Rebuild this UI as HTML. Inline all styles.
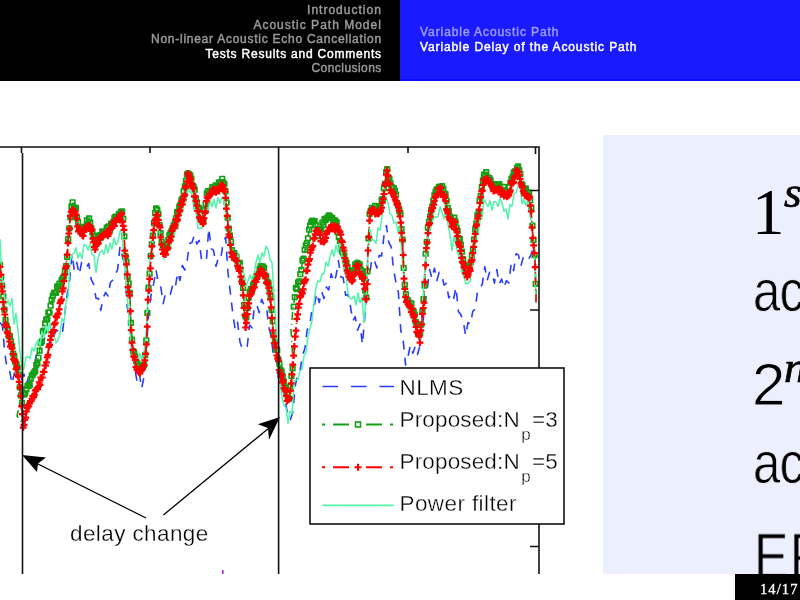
<!DOCTYPE html>
<html><head><meta charset="utf-8"><style>
*{margin:0;padding:0;box-sizing:border-box}
html,body{width:800px;height:600px;overflow:hidden;background:#fff;position:relative}
.hl{position:absolute;left:0;top:0;width:400px;height:80.5px;background:#000}
.hr{position:absolute;left:400px;top:0;width:400px;height:81px;background:#1a1aff;border-bottom:2px solid #0c0cff}
.hdr{position:absolute;will-change:transform;font-family:"Liberation Sans",sans-serif;font-size:12px;white-space:nowrap;line-height:14.6px;letter-spacing:1px;-webkit-text-stroke:0.45px currentColor}
.hdl{right:418px;top:2.5px;text-align:right;color:#9a9a9a}
.hdr .on{color:#fff}
.hdrr{left:419.5px;top:25px;color:#9c9cff}
.box{position:absolute;left:603px;top:135px;width:197px;height:439px;background:#ecf0fe;overflow:hidden}
.ln{position:absolute;will-change:transform;font-family:"Liberation Sans",sans-serif;font-size:60px;line-height:1;white-space:nowrap;color:#000}
.ser{font-family:"Liberation Serif",serif}
.sup{font-family:"Liberation Serif",serif;font-style:italic;font-size:45px;position:absolute;top:-10px;-webkit-text-stroke:0.7px #000}
.thin{-webkit-text-stroke:0.8px #ecf0fe}
.cm{transform-origin:0 0;transform:scaleX(0.82);-webkit-text-stroke:0.8px #ecf0fe;letter-spacing:-1px}
.foot{position:absolute;left:735px;top:574px;width:65px;height:26px;background:#000;color:#fff;font-family:"Liberation Serif",serif;font-size:14.5px;letter-spacing:1.1px;line-height:1;-webkit-text-stroke:0.35px #fff}
.foot span{position:absolute;will-change:transform;left:24.5px;top:7.5px}
</style></head><body>
<div class="hl"></div><div class="hr"></div>
<div class="hdr hdl">Introduction<br>Acoustic Path Model<br><span style="letter-spacing:0.74px">Non-linear Acoustic Echo Cancellation</span><br><span class="on" style="letter-spacing:0.78px">Tests Results and Comments</span><br><span style="letter-spacing:0.45px">Conclusions</span></div>
<div class="hdr hdrr"><span style="letter-spacing:0.92px">Variable Acoustic Path</span><br><span style="color:#fff;letter-spacing:0.88px">Variable Delay of the Acoustic Path</span></div>
<svg width="800" height="600" viewBox="0 0 800 600" style="position:absolute;left:0;top:0;will-change:transform">
<defs><clipPath id="pc"><rect x="0" y="147" width="539" height="427"/></clipPath></defs>
<g clip-path="url(#pc)" fill="none" stroke-linejoin="round">
<polyline points="0.0,322.5 2.4,325.8 4.8,352.9 7.2,369.6 9.6,370.5 12.0,383.8 14.4,373.0 16.8,377.9 19.2,378.7 21.6,379.2 24.0,374.1 26.4,383.8 28.8,377.3 31.2,382.6 33.6,375.0 36.0,355.7 38.4,352.4 40.8,345.0 43.2,341.3 45.6,336.5 48.0,345.8 50.4,342.1 52.8,343.7 55.2,331.3 57.6,330.7 60.0,334.7 62.4,333.2 64.8,313.6 67.2,294.3 69.6,280.5 72.0,254.1 74.4,270.5 76.8,262.4 79.2,274.4 81.6,262.5 84.0,266.0 86.4,267.5 88.8,263.5 91.2,279.3 93.6,284.1 96.0,298.1 98.4,298.6 100.8,310.4 103.2,297.5 105.6,292.4 108.0,296.0 110.4,282.5 112.8,280.0 115.2,274.3 117.6,269.8 120.0,246.4 122.4,256.6 124.8,264.6 127.2,307.1 129.6,319.6 132.0,352.6 134.4,366.2 136.8,380.1 139.2,372.6 141.6,388.4 144.0,377.0 146.4,346.7 148.8,312.6 151.2,294.2 153.6,283.9 156.0,269.7 158.4,284.2 160.8,287.0 163.2,303.6 165.6,292.6 168.0,292.5 170.4,294.2 172.8,284.6 175.2,288.1 177.6,272.5 180.0,280.4 182.4,265.5 184.8,270.0 187.2,260.2 189.6,243.5 192.0,242.5 194.4,235.2 196.8,244.0 199.2,240.4 201.6,260.6 204.0,259.8 206.4,260.2 208.8,228.2 211.2,248.7 213.6,250.4 216.0,266.3 218.4,257.7 220.8,259.0 223.2,242.2 225.6,237.2 228.0,272.5 230.4,293.2 232.8,313.5 235.2,329.7 237.6,322.3 240.0,342.0 242.4,349.0 244.8,349.0 247.2,346.5 249.6,325.1 252.0,327.8 254.4,306.9 256.8,304.8 259.2,312.7 261.6,299.3 264.0,305.0 266.4,305.7 268.8,326.9 271.2,336.4 273.6,357.3 276.0,355.4 278.4,376.7 280.8,376.4 283.2,386.7 285.6,402.2 288.0,417.3 290.4,419.6 292.8,412.5 295.2,386.1 297.6,374.8 300.0,371.4 302.4,355.1 304.8,349.1 307.2,329.7 309.6,326.8 312.0,309.0 314.4,305.0 316.8,293.0 319.2,302.5 321.6,291.5 324.0,298.6 326.4,287.1 328.8,289.9 331.2,273.7 333.6,282.1 336.0,276.0 338.4,260.5 340.8,276.8 343.2,277.8 345.6,295.2 348.0,294.6 350.4,306.0 352.8,320.9 355.2,316.6 357.6,330.3 360.0,324.1 362.4,344.4 364.8,316.8 367.2,284.6 369.6,274.6 372.0,258.5 374.4,260.5 376.8,267.9 379.2,255.3 381.6,256.1 384.0,235.7 386.4,225.5 388.8,242.5 391.2,246.9 393.6,269.8 396.0,282.6 398.4,292.5 400.8,330.5 403.2,340.2 405.6,365.0 408.0,356.5 410.4,345.3 412.8,353.3 415.2,346.5 417.6,354.5 420.0,345.1 422.4,328.1 424.8,303.4 427.2,289.9 429.6,269.6 432.0,278.6 434.4,268.2 436.8,280.7 439.2,272.3 441.6,274.4 444.0,285.0 446.4,283.3 448.8,297.9 451.2,293.9 453.6,298.9 456.0,287.3 458.4,311.5 460.8,314.6 463.2,320.7 465.6,335.6 468.0,322.5 470.4,324.2 472.8,311.1 475.2,309.2 477.6,290.5 480.0,289.3 482.4,283.6 484.8,266.7 487.2,280.3 489.6,272.2 492.0,272.3 494.4,283.2 496.8,269.6 499.2,283.9 501.6,279.0 504.0,287.8 506.4,280.6 508.8,283.0 511.2,263.1 513.6,270.7 516.0,253.7 518.4,254.9 520.8,266.4 523.2,257.6 525.6,256.1 528.0,259.7 530.4,256.3 532.8,249.6" stroke="#2a3cff" stroke-width="1.6" stroke-dasharray="9 8"/>
<polyline points="0.0,264.0 2.0,286.0 4.0,306.0 6.0,324.0 9.0,336.0 12.0,346.0 15.0,358.0 18.0,371.0 20.0,386.0 22.0,404.0 23.0,424.0 17.0,416.0 20.0,403.0 24.0,395.0 28.0,386.0 32.0,378.0 36.0,368.0 39.0,354.0 41.0,343.0 43.0,332.0 46.0,322.0 50.0,308.0 54.0,293.0 64.0,279.0 67.0,256.0 68.5,233.0 71.0,209.0 73.0,203.0 76.0,211.0 79.0,228.0 83.0,232.0 86.0,224.0 89.0,220.0 92.0,228.0 95.0,244.0 100.0,236.0 105.0,232.0 110.0,228.0 113.0,220.0 118.0,216.0 122.0,212.0 124.0,228.0 125.0,251.0 127.0,264.0 128.0,281.0 130.0,296.0 131.0,326.0 133.0,348.0 136.0,361.0 140.0,368.0 144.0,364.0 146.0,348.0 147.0,326.0 148.0,296.0 150.0,266.0 153.0,233.0 155.0,216.0 157.0,208.0 159.0,218.0 161.0,234.0 163.0,248.0 165.0,251.0 168.0,241.0 171.0,232.0 175.0,220.0 180.0,206.0 184.0,192.0 186.0,182.0 188.0,171.0 191.0,178.0 194.0,188.0 197.0,202.0 200.0,214.0 203.0,221.0 205.0,211.0 207.0,194.0 212.0,188.0 218.0,186.0 222.0,180.0 225.0,188.0 227.0,208.0 228.0,221.0 230.0,238.0 232.0,251.0 236.0,258.0 240.0,266.0 243.0,286.0 245.0,316.0 246.0,324.0 248.0,301.0 250.0,292.0 253.0,286.0 258.0,272.0 262.0,266.0 266.0,276.0 270.0,288.0 272.0,316.0 274.0,336.0 276.0,346.0 280.0,368.0 284.0,382.0 287.0,394.0 289.0,398.0 291.0,384.0 293.0,361.0 291.0,330.0 293.0,308.0 296.0,290.0 299.0,280.0 303.0,260.0 306.0,245.0 309.0,232.0 312.0,220.0 315.0,224.0 318.0,234.0 321.0,228.0 324.0,222.0 328.0,216.0 332.0,218.0 336.0,222.0 338.0,233.0 340.0,243.0 346.0,263.0 348.0,271.0 352.0,276.0 355.0,268.0 357.0,260.0 360.0,268.0 363.0,274.0 365.0,286.0 366.0,298.0 367.0,286.0 368.0,246.0 370.0,208.0 375.0,208.0 380.0,209.0 383.0,196.0 385.0,182.0 387.0,168.0 390.0,184.0 395.0,193.0 400.0,211.0 402.0,233.0 403.0,248.0 404.0,276.0 406.0,296.0 410.0,304.0 413.0,308.0 416.0,321.0 418.0,331.0 420.0,336.0 422.0,316.0 424.0,296.0 425.0,276.0 426.0,248.0 428.0,228.0 430.0,214.0 435.0,196.0 438.0,188.0 441.0,186.0 445.0,194.0 447.0,206.0 450.0,218.0 453.0,222.0 455.0,218.0 457.0,231.0 460.0,241.0 462.0,254.0 465.0,266.0 467.0,272.0 470.0,266.0 472.0,256.0 474.0,241.0 475.0,228.0 478.0,214.0 480.0,201.0 482.0,186.0 485.0,173.0 488.0,178.0 492.0,184.0 496.0,186.0 500.0,187.0 504.0,190.0 507.0,194.0 509.0,188.0 512.0,180.0 515.0,172.0 518.0,164.0 520.0,172.0 521.0,183.0 524.0,188.0 527.0,191.0 530.0,196.0 531.0,206.0 532.0,221.0 533.0,236.0 535.0,258.0 536.0,291.0 536.0,301.0" stroke="#14a014" stroke-width="1.6" stroke-dasharray="8 4 1 4"/>
<path d="M-2.3 262.5h4.6v4.6h-4.6zM-1.2 275.0h4.6v4.6h-4.6zM-0.1 283.4h4.6v4.6h-4.6zM1.0 294.1h4.6v4.6h-4.6zM2.1 307.4h4.6v4.6h-4.6zM3.2 317.7h4.6v4.6h-4.6zM4.3 323.4h4.6v4.6h-4.6zM5.4 326.8h4.6v4.6h-4.6zM6.5 333.5h4.6v4.6h-4.6zM7.6 333.8h4.6v4.6h-4.6zM8.7 339.2h4.6v4.6h-4.6zM9.8 343.9h4.6v4.6h-4.6zM10.9 351.3h4.6v4.6h-4.6zM12.0 353.8h4.6v4.6h-4.6zM13.1 359.7h4.6v4.6h-4.6zM14.2 362.1h4.6v4.6h-4.6zM15.3 365.4h4.6v4.6h-4.6zM16.4 372.4h4.6v4.6h-4.6zM17.5 385.0h4.6v4.6h-4.6zM18.6 393.0h4.6v4.6h-4.6zM19.7 400.5h4.6v4.6h-4.6zM20.8 391.6h4.6v4.6h-4.6zM21.9 392.2h4.6v4.6h-4.6zM23.0 390.8h4.6v4.6h-4.6zM24.1 386.8h4.6v4.6h-4.6zM25.2 383.4h4.6v4.6h-4.6zM26.3 383.5h4.6v4.6h-4.6zM27.4 382.9h4.6v4.6h-4.6zM28.5 376.5h4.6v4.6h-4.6zM29.6 373.1h4.6v4.6h-4.6zM30.7 372.2h4.6v4.6h-4.6zM31.8 370.0h4.6v4.6h-4.6zM32.9 368.8h4.6v4.6h-4.6zM34.0 362.5h4.6v4.6h-4.6zM35.1 360.9h4.6v4.6h-4.6zM36.2 355.5h4.6v4.6h-4.6zM37.3 348.4h4.6v4.6h-4.6zM38.4 340.6h4.6v4.6h-4.6zM39.5 339.1h4.6v4.6h-4.6zM40.6 329.1h4.6v4.6h-4.6zM41.7 328.3h4.6v4.6h-4.6zM42.8 321.1h4.6v4.6h-4.6zM43.9 317.3h4.6v4.6h-4.6zM45.0 316.7h4.6v4.6h-4.6zM46.1 310.1h4.6v4.6h-4.6zM47.2 310.2h4.6v4.6h-4.6zM48.3 303.4h4.6v4.6h-4.6zM49.4 297.4h4.6v4.6h-4.6zM50.5 293.5h4.6v4.6h-4.6zM51.6 290.6h4.6v4.6h-4.6zM52.7 290.3h4.6v4.6h-4.6zM53.8 290.5h4.6v4.6h-4.6zM54.9 284.1h4.6v4.6h-4.6zM56.0 284.0h4.6v4.6h-4.6zM57.1 281.4h4.6v4.6h-4.6zM58.2 284.4h4.6v4.6h-4.6zM59.3 277.9h4.6v4.6h-4.6zM60.4 275.8h4.6v4.6h-4.6zM61.5 274.3h4.6v4.6h-4.6zM62.6 269.2h4.6v4.6h-4.6zM63.7 263.8h4.6v4.6h-4.6zM64.8 254.5h4.6v4.6h-4.6zM65.9 236.7h4.6v4.6h-4.6zM67.0 226.0h4.6v4.6h-4.6zM68.1 215.0h4.6v4.6h-4.6zM69.2 204.2h4.6v4.6h-4.6zM70.3 200.0h4.6v4.6h-4.6zM71.4 205.2h4.6v4.6h-4.6zM72.5 207.0h4.6v4.6h-4.6zM73.6 205.6h4.6v4.6h-4.6zM74.7 215.4h4.6v4.6h-4.6zM75.8 219.9h4.6v4.6h-4.6zM76.9 225.1h4.6v4.6h-4.6zM78.0 226.0h4.6v4.6h-4.6zM79.1 226.1h4.6v4.6h-4.6zM80.2 226.2h4.6v4.6h-4.6zM81.3 226.8h4.6v4.6h-4.6zM82.4 224.3h4.6v4.6h-4.6zM83.5 225.0h4.6v4.6h-4.6zM84.6 218.2h4.6v4.6h-4.6zM85.7 221.8h4.6v4.6h-4.6zM86.8 216.2h4.6v4.6h-4.6zM87.9 220.0h4.6v4.6h-4.6zM89.0 225.8h4.6v4.6h-4.6zM90.1 229.8h4.6v4.6h-4.6zM91.2 233.3h4.6v4.6h-4.6zM92.3 236.9h4.6v4.6h-4.6zM93.4 240.4h4.6v4.6h-4.6zM94.5 238.1h4.6v4.6h-4.6zM95.6 239.6h4.6v4.6h-4.6zM96.7 233.5h4.6v4.6h-4.6zM97.8 232.8h4.6v4.6h-4.6zM98.9 235.1h4.6v4.6h-4.6zM100.0 229.0h4.6v4.6h-4.6zM101.1 230.4h4.6v4.6h-4.6zM102.2 232.0h4.6v4.6h-4.6zM103.3 230.8h4.6v4.6h-4.6zM104.4 225.6h4.6v4.6h-4.6zM105.5 224.7h4.6v4.6h-4.6zM106.6 224.0h4.6v4.6h-4.6zM107.7 228.2h4.6v4.6h-4.6zM108.8 221.3h4.6v4.6h-4.6zM109.9 221.3h4.6v4.6h-4.6zM111.0 219.9h4.6v4.6h-4.6zM112.1 215.6h4.6v4.6h-4.6zM113.2 214.3h4.6v4.6h-4.6zM114.3 217.6h4.6v4.6h-4.6zM115.4 214.6h4.6v4.6h-4.6zM116.5 211.5h4.6v4.6h-4.6zM117.6 213.1h4.6v4.6h-4.6zM118.7 209.6h4.6v4.6h-4.6zM119.8 209.2h4.6v4.6h-4.6zM120.9 216.3h4.6v4.6h-4.6zM122.0 234.1h4.6v4.6h-4.6zM123.1 253.8h4.6v4.6h-4.6zM124.2 259.3h4.6v4.6h-4.6zM125.3 274.6h4.6v4.6h-4.6zM126.4 281.1h4.6v4.6h-4.6zM127.5 290.6h4.6v4.6h-4.6zM128.6 320.6h4.6v4.6h-4.6zM129.7 337.4h4.6v4.6h-4.6zM130.8 348.9h4.6v4.6h-4.6zM131.9 350.2h4.6v4.6h-4.6zM133.0 354.2h4.6v4.6h-4.6zM134.1 359.0h4.6v4.6h-4.6zM135.2 361.3h4.6v4.6h-4.6zM136.3 365.8h4.6v4.6h-4.6zM137.4 363.3h4.6v4.6h-4.6zM138.5 366.7h4.6v4.6h-4.6zM139.6 365.2h4.6v4.6h-4.6zM140.7 364.6h4.6v4.6h-4.6zM141.8 362.5h4.6v4.6h-4.6zM142.9 352.7h4.6v4.6h-4.6zM144.0 338.1h4.6v4.6h-4.6zM145.1 310.6h4.6v4.6h-4.6zM146.2 285.4h4.6v4.6h-4.6zM147.3 271.4h4.6v4.6h-4.6zM148.4 253.5h4.6v4.6h-4.6zM149.5 242.1h4.6v4.6h-4.6zM150.6 233.3h4.6v4.6h-4.6zM151.7 220.7h4.6v4.6h-4.6zM152.8 210.7h4.6v4.6h-4.6zM153.9 206.1h4.6v4.6h-4.6zM155.0 207.5h4.6v4.6h-4.6zM156.1 211.7h4.6v4.6h-4.6zM157.2 222.6h4.6v4.6h-4.6zM158.3 230.8h4.6v4.6h-4.6zM159.4 239.5h4.6v4.6h-4.6zM160.5 242.9h4.6v4.6h-4.6zM161.6 244.6h4.6v4.6h-4.6zM162.7 246.3h4.6v4.6h-4.6zM163.8 245.0h4.6v4.6h-4.6zM164.9 242.6h4.6v4.6h-4.6zM166.0 237.5h4.6v4.6h-4.6zM167.1 232.9h4.6v4.6h-4.6zM168.2 230.7h4.6v4.6h-4.6zM169.3 228.6h4.6v4.6h-4.6zM170.4 225.6h4.6v4.6h-4.6zM171.5 222.8h4.6v4.6h-4.6zM172.6 220.1h4.6v4.6h-4.6zM173.7 215.9h4.6v4.6h-4.6zM174.8 209.5h4.6v4.6h-4.6zM175.9 210.8h4.6v4.6h-4.6zM177.0 204.4h4.6v4.6h-4.6zM178.1 202.7h4.6v4.6h-4.6zM179.2 197.7h4.6v4.6h-4.6zM180.3 196.0h4.6v4.6h-4.6zM181.4 188.9h4.6v4.6h-4.6zM182.5 184.2h4.6v4.6h-4.6zM183.6 178.7h4.6v4.6h-4.6zM184.7 172.1h4.6v4.6h-4.6zM185.8 171.2h4.6v4.6h-4.6zM186.9 172.0h4.6v4.6h-4.6zM188.0 173.0h4.6v4.6h-4.6zM189.1 176.4h4.6v4.6h-4.6zM190.2 183.7h4.6v4.6h-4.6zM191.3 184.4h4.6v4.6h-4.6zM192.4 187.4h4.6v4.6h-4.6zM193.5 196.0h4.6v4.6h-4.6zM194.6 200.2h4.6v4.6h-4.6zM195.7 206.6h4.6v4.6h-4.6zM196.8 205.7h4.6v4.6h-4.6zM197.9 212.0h4.6v4.6h-4.6zM199.0 216.6h4.6v4.6h-4.6zM200.1 219.3h4.6v4.6h-4.6zM201.2 218.7h4.6v4.6h-4.6zM202.3 207.9h4.6v4.6h-4.6zM203.4 201.5h4.6v4.6h-4.6zM204.5 191.1h4.6v4.6h-4.6zM205.6 188.8h4.6v4.6h-4.6zM206.7 192.1h4.6v4.6h-4.6zM207.8 188.5h4.6v4.6h-4.6zM208.9 189.2h4.6v4.6h-4.6zM210.0 184.8h4.6v4.6h-4.6zM211.1 187.4h4.6v4.6h-4.6zM212.2 184.6h4.6v4.6h-4.6zM213.3 183.1h4.6v4.6h-4.6zM214.4 185.8h4.6v4.6h-4.6zM215.5 186.4h4.6v4.6h-4.6zM216.6 180.0h4.6v4.6h-4.6zM217.7 181.3h4.6v4.6h-4.6zM218.8 179.8h4.6v4.6h-4.6zM219.9 176.5h4.6v4.6h-4.6zM221.0 180.4h4.6v4.6h-4.6zM222.1 181.9h4.6v4.6h-4.6zM223.2 188.9h4.6v4.6h-4.6zM224.3 200.2h4.6v4.6h-4.6zM225.4 215.4h4.6v4.6h-4.6zM226.5 226.4h4.6v4.6h-4.6zM227.6 233.1h4.6v4.6h-4.6zM228.7 239.3h4.6v4.6h-4.6zM229.8 247.8h4.6v4.6h-4.6zM230.9 251.9h4.6v4.6h-4.6zM232.0 250.8h4.6v4.6h-4.6zM233.1 253.5h4.6v4.6h-4.6zM234.2 254.9h4.6v4.6h-4.6zM235.3 260.7h4.6v4.6h-4.6zM236.4 261.4h4.6v4.6h-4.6zM237.5 260.7h4.6v4.6h-4.6zM238.6 267.3h4.6v4.6h-4.6zM239.7 276.4h4.6v4.6h-4.6zM240.8 285.5h4.6v4.6h-4.6zM241.9 302.5h4.6v4.6h-4.6zM243.0 313.6h4.6v4.6h-4.6zM244.1 315.1h4.6v4.6h-4.6zM245.2 305.6h4.6v4.6h-4.6zM246.3 295.5h4.6v4.6h-4.6zM247.4 289.7h4.6v4.6h-4.6zM248.5 286.9h4.6v4.6h-4.6zM249.6 288.6h4.6v4.6h-4.6zM250.7 282.6h4.6v4.6h-4.6zM251.8 281.0h4.6v4.6h-4.6zM252.9 276.7h4.6v4.6h-4.6zM254.0 274.0h4.6v4.6h-4.6zM255.1 273.6h4.6v4.6h-4.6zM256.2 271.9h4.6v4.6h-4.6zM257.3 266.5h4.6v4.6h-4.6zM258.4 263.8h4.6v4.6h-4.6zM259.5 265.4h4.6v4.6h-4.6zM260.6 264.2h4.6v4.6h-4.6zM261.7 265.7h4.6v4.6h-4.6zM262.8 273.9h4.6v4.6h-4.6zM263.9 273.8h4.6v4.6h-4.6zM265.0 279.5h4.6v4.6h-4.6zM266.1 280.3h4.6v4.6h-4.6zM267.2 286.5h4.6v4.6h-4.6zM268.3 293.9h4.6v4.6h-4.6zM269.4 307.5h4.6v4.6h-4.6zM270.5 318.8h4.6v4.6h-4.6zM271.6 333.0h4.6v4.6h-4.6zM272.7 339.5h4.6v4.6h-4.6zM273.8 346.7h4.6v4.6h-4.6zM274.9 347.8h4.6v4.6h-4.6zM276.0 357.1h4.6v4.6h-4.6zM277.1 361.6h4.6v4.6h-4.6zM278.2 367.5h4.6v4.6h-4.6zM279.3 369.2h4.6v4.6h-4.6zM280.4 373.8h4.6v4.6h-4.6zM281.5 379.1h4.6v4.6h-4.6zM282.6 385.9h4.6v4.6h-4.6zM283.7 385.4h4.6v4.6h-4.6zM284.8 391.8h4.6v4.6h-4.6zM285.9 395.9h4.6v4.6h-4.6zM287.0 396.4h4.6v4.6h-4.6zM288.1 384.1h4.6v4.6h-4.6zM289.2 373.7h4.6v4.6h-4.6zM290.3 366.0h4.6v4.6h-4.6zM291.4 304.4h4.6v4.6h-4.6zM292.5 294.8h4.6v4.6h-4.6zM293.6 285.6h4.6v4.6h-4.6zM294.7 286.9h4.6v4.6h-4.6zM295.8 280.0h4.6v4.6h-4.6zM296.9 279.1h4.6v4.6h-4.6zM298.0 271.9h4.6v4.6h-4.6zM299.1 267.6h4.6v4.6h-4.6zM300.2 258.2h4.6v4.6h-4.6zM301.3 256.4h4.6v4.6h-4.6zM302.4 247.5h4.6v4.6h-4.6zM303.5 243.1h4.6v4.6h-4.6zM304.6 240.9h4.6v4.6h-4.6zM305.7 236.0h4.6v4.6h-4.6zM306.8 227.4h4.6v4.6h-4.6zM307.9 223.2h4.6v4.6h-4.6zM309.0 219.9h4.6v4.6h-4.6zM310.1 218.3h4.6v4.6h-4.6zM311.2 219.0h4.6v4.6h-4.6zM312.3 218.9h4.6v4.6h-4.6zM313.4 222.5h4.6v4.6h-4.6zM314.5 229.0h4.6v4.6h-4.6zM315.6 233.8h4.6v4.6h-4.6zM316.7 226.9h4.6v4.6h-4.6zM317.8 227.9h4.6v4.6h-4.6zM318.9 226.8h4.6v4.6h-4.6zM320.0 220.3h4.6v4.6h-4.6zM321.1 222.9h4.6v4.6h-4.6zM322.2 216.7h4.6v4.6h-4.6zM323.3 217.9h4.6v4.6h-4.6zM324.4 216.0h4.6v4.6h-4.6zM325.5 214.8h4.6v4.6h-4.6zM326.6 213.0h4.6v4.6h-4.6zM327.7 214.2h4.6v4.6h-4.6zM328.8 215.7h4.6v4.6h-4.6zM329.9 215.5h4.6v4.6h-4.6zM331.0 218.0h4.6v4.6h-4.6zM332.1 217.8h4.6v4.6h-4.6zM333.2 218.8h4.6v4.6h-4.6zM334.3 220.1h4.6v4.6h-4.6zM335.4 229.8h4.6v4.6h-4.6zM336.5 234.6h4.6v4.6h-4.6zM337.6 238.6h4.6v4.6h-4.6zM338.7 245.6h4.6v4.6h-4.6zM339.8 249.4h4.6v4.6h-4.6zM340.9 251.1h4.6v4.6h-4.6zM342.0 253.1h4.6v4.6h-4.6zM343.1 258.5h4.6v4.6h-4.6zM344.2 260.3h4.6v4.6h-4.6zM345.3 264.9h4.6v4.6h-4.6zM346.4 269.2h4.6v4.6h-4.6zM347.5 268.5h4.6v4.6h-4.6zM348.6 272.0h4.6v4.6h-4.6zM349.7 273.8h4.6v4.6h-4.6zM350.8 268.0h4.6v4.6h-4.6zM351.9 268.7h4.6v4.6h-4.6zM353.0 262.0h4.6v4.6h-4.6zM354.1 261.5h4.6v4.6h-4.6zM355.2 260.7h4.6v4.6h-4.6zM356.3 262.0h4.6v4.6h-4.6zM357.4 262.2h4.6v4.6h-4.6zM358.5 267.3h4.6v4.6h-4.6zM359.6 268.8h4.6v4.6h-4.6zM360.7 274.4h4.6v4.6h-4.6zM361.8 276.1h4.6v4.6h-4.6zM362.9 288.2h4.6v4.6h-4.6zM364.0 295.1h4.6v4.6h-4.6zM365.1 269.1h4.6v4.6h-4.6zM366.2 236.1h4.6v4.6h-4.6zM367.3 211.5h4.6v4.6h-4.6zM368.4 208.6h4.6v4.6h-4.6zM369.5 205.7h4.6v4.6h-4.6zM370.6 208.4h4.6v4.6h-4.6zM371.7 208.2h4.6v4.6h-4.6zM372.8 203.7h4.6v4.6h-4.6zM373.9 207.7h4.6v4.6h-4.6zM375.0 208.7h4.6v4.6h-4.6zM376.1 203.8h4.6v4.6h-4.6zM377.2 205.7h4.6v4.6h-4.6zM378.3 205.6h4.6v4.6h-4.6zM379.4 197.3h4.6v4.6h-4.6zM380.5 196.9h4.6v4.6h-4.6zM381.6 186.0h4.6v4.6h-4.6zM382.7 181.6h4.6v4.6h-4.6zM383.8 169.9h4.6v4.6h-4.6zM384.9 166.8h4.6v4.6h-4.6zM386.0 175.2h4.6v4.6h-4.6zM387.1 176.7h4.6v4.6h-4.6zM388.2 181.2h4.6v4.6h-4.6zM389.3 184.6h4.6v4.6h-4.6zM390.4 185.5h4.6v4.6h-4.6zM391.5 185.8h4.6v4.6h-4.6zM392.6 188.6h4.6v4.6h-4.6zM393.7 192.3h4.6v4.6h-4.6zM394.8 200.9h4.6v4.6h-4.6zM395.9 203.3h4.6v4.6h-4.6zM397.0 208.6h4.6v4.6h-4.6zM398.1 211.1h4.6v4.6h-4.6zM399.2 226.9h4.6v4.6h-4.6zM400.3 237.4h4.6v4.6h-4.6zM401.4 265.5h4.6v4.6h-4.6zM402.5 282.5h4.6v4.6h-4.6zM403.6 291.9h4.6v4.6h-4.6zM404.7 297.9h4.6v4.6h-4.6zM405.8 298.2h4.6v4.6h-4.6zM406.9 300.6h4.6v4.6h-4.6zM408.0 304.4h4.6v4.6h-4.6zM409.1 301.2h4.6v4.6h-4.6zM410.2 308.0h4.6v4.6h-4.6zM411.3 309.1h4.6v4.6h-4.6zM412.4 312.4h4.6v4.6h-4.6zM413.5 319.6h4.6v4.6h-4.6zM414.6 321.8h4.6v4.6h-4.6zM415.7 331.6h4.6v4.6h-4.6zM416.8 331.9h4.6v4.6h-4.6zM417.9 330.9h4.6v4.6h-4.6zM419.0 322.3h4.6v4.6h-4.6zM420.1 309.4h4.6v4.6h-4.6zM421.2 296.8h4.6v4.6h-4.6zM422.3 283.2h4.6v4.6h-4.6zM423.4 251.4h4.6v4.6h-4.6zM424.5 239.6h4.6v4.6h-4.6zM425.6 225.2h4.6v4.6h-4.6zM426.7 219.5h4.6v4.6h-4.6zM427.8 214.2h4.6v4.6h-4.6zM428.9 207.9h4.6v4.6h-4.6zM430.0 204.4h4.6v4.6h-4.6zM431.1 198.3h4.6v4.6h-4.6zM432.2 192.5h4.6v4.6h-4.6zM433.3 189.3h4.6v4.6h-4.6zM434.4 187.1h4.6v4.6h-4.6zM435.5 186.9h4.6v4.6h-4.6zM436.6 184.7h4.6v4.6h-4.6zM437.7 184.4h4.6v4.6h-4.6zM438.8 186.3h4.6v4.6h-4.6zM439.9 183.9h4.6v4.6h-4.6zM441.0 186.7h4.6v4.6h-4.6zM442.1 191.4h4.6v4.6h-4.6zM443.2 191.8h4.6v4.6h-4.6zM444.3 198.3h4.6v4.6h-4.6zM445.4 205.6h4.6v4.6h-4.6zM446.5 208.5h4.6v4.6h-4.6zM447.6 214.4h4.6v4.6h-4.6zM448.7 215.4h4.6v4.6h-4.6zM449.8 219.0h4.6v4.6h-4.6zM450.9 219.8h4.6v4.6h-4.6zM452.0 215.3h4.6v4.6h-4.6zM453.1 219.0h4.6v4.6h-4.6zM454.2 225.3h4.6v4.6h-4.6zM455.3 228.5h4.6v4.6h-4.6zM456.4 237.0h4.6v4.6h-4.6zM457.5 236.5h4.6v4.6h-4.6zM458.6 242.4h4.6v4.6h-4.6zM459.7 249.3h4.6v4.6h-4.6zM460.8 256.9h4.6v4.6h-4.6zM461.9 262.7h4.6v4.6h-4.6zM463.0 266.3h4.6v4.6h-4.6zM464.1 267.3h4.6v4.6h-4.6zM465.2 267.3h4.6v4.6h-4.6zM466.3 263.6h4.6v4.6h-4.6zM467.4 265.2h4.6v4.6h-4.6zM468.5 260.1h4.6v4.6h-4.6zM469.6 253.3h4.6v4.6h-4.6zM470.7 247.1h4.6v4.6h-4.6zM471.8 237.1h4.6v4.6h-4.6zM472.9 227.4h4.6v4.6h-4.6zM474.0 221.0h4.6v4.6h-4.6zM475.1 213.0h4.6v4.6h-4.6zM476.2 210.9h4.6v4.6h-4.6zM477.3 198.6h4.6v4.6h-4.6zM478.4 193.6h4.6v4.6h-4.6zM479.5 184.6h4.6v4.6h-4.6zM480.6 178.2h4.6v4.6h-4.6zM481.7 172.4h4.6v4.6h-4.6zM482.8 172.5h4.6v4.6h-4.6zM483.9 169.8h4.6v4.6h-4.6zM485.0 174.8h4.6v4.6h-4.6zM486.1 178.9h4.6v4.6h-4.6zM487.2 175.8h4.6v4.6h-4.6zM488.3 177.8h4.6v4.6h-4.6zM489.4 181.9h4.6v4.6h-4.6zM490.5 182.1h4.6v4.6h-4.6zM491.6 183.5h4.6v4.6h-4.6zM492.7 185.1h4.6v4.6h-4.6zM493.8 181.8h4.6v4.6h-4.6zM494.9 182.9h4.6v4.6h-4.6zM496.0 183.1h4.6v4.6h-4.6zM497.1 181.8h4.6v4.6h-4.6zM498.2 187.4h4.6v4.6h-4.6zM499.3 187.6h4.6v4.6h-4.6zM500.4 188.0h4.6v4.6h-4.6zM501.5 184.6h4.6v4.6h-4.6zM502.6 191.0h4.6v4.6h-4.6zM503.7 191.8h4.6v4.6h-4.6zM504.8 191.2h4.6v4.6h-4.6zM505.9 189.6h4.6v4.6h-4.6zM507.0 184.6h4.6v4.6h-4.6zM508.1 180.3h4.6v4.6h-4.6zM509.2 176.7h4.6v4.6h-4.6zM510.3 174.5h4.6v4.6h-4.6zM511.4 170.4h4.6v4.6h-4.6zM512.5 169.2h4.6v4.6h-4.6zM513.6 168.8h4.6v4.6h-4.6zM514.7 165.5h4.6v4.6h-4.6zM515.8 164.2h4.6v4.6h-4.6zM516.9 167.8h4.6v4.6h-4.6zM518.0 171.6h4.6v4.6h-4.6zM519.1 181.7h4.6v4.6h-4.6zM520.2 182.8h4.6v4.6h-4.6zM521.3 186.8h4.6v4.6h-4.6zM522.4 186.5h4.6v4.6h-4.6zM523.5 186.1h4.6v4.6h-4.6zM524.6 189.5h4.6v4.6h-4.6zM525.7 193.2h4.6v4.6h-4.6zM526.8 190.5h4.6v4.6h-4.6zM527.9 198.0h4.6v4.6h-4.6zM529.0 205.3h4.6v4.6h-4.6zM530.1 223.3h4.6v4.6h-4.6zM531.2 237.6h4.6v4.6h-4.6zM532.3 252.8h4.6v4.6h-4.6zM533.4 281.5h4.6v4.6h-4.6z" stroke="#14a014" stroke-width="1.7"/>
<polyline points="0.0,239.0 2.0,280.2 4.0,294.9 6.0,304.0 8.0,300.6 10.0,306.1 12.0,298.5 14.0,324.1 16.0,313.3 18.0,330.1 20.0,351.8 22.0,369.7 24.0,368.6 26.0,357.0 28.0,356.7 30.0,358.6 32.0,347.8 34.0,351.2 36.0,343.6 38.0,340.3 40.0,345.7 42.0,331.7 44.0,337.1 46.0,325.5 48.0,333.0 50.0,322.5 52.0,337.2 54.0,334.7 56.0,342.9 58.0,340.1 60.0,334.2 62.0,318.4 64.0,322.2 66.0,301.4 68.0,297.1 70.0,262.1 72.0,254.3 74.0,253.3 76.0,247.7 78.0,258.0 80.0,252.8 82.0,258.4 84.0,244.5 86.0,245.2 88.0,250.1 90.0,243.5 92.0,254.5 94.0,255.4 96.0,272.3 98.0,258.2 100.0,252.2 102.0,250.2 104.0,254.5 106.0,244.6 108.0,252.7 110.0,243.1 112.0,248.9 114.0,238.0 116.0,244.8 118.0,241.7 120.0,231.2 122.0,232.4 124.0,260.7 126.0,280.3 128.0,306.0 130.0,334.1 132.0,352.3 134.0,361.2 136.0,355.6 138.0,359.0 140.0,353.2 142.0,360.2 144.0,351.9 146.0,337.8 148.0,292.6 150.0,256.7 152.0,246.6 154.0,224.0 156.0,221.6 158.0,219.2 160.0,236.1 162.0,244.6 164.0,259.1 166.0,252.3 168.0,249.3 170.0,250.0 172.0,239.1 174.0,236.9 176.0,224.9 178.0,229.0 180.0,213.0 182.0,213.3 184.0,202.6 186.0,201.4 188.0,188.4 190.0,191.9 192.0,193.7 194.0,209.4 196.0,209.8 198.0,228.7 200.0,228.3 202.0,228.2 204.0,220.0 206.0,207.9 208.0,212.2 210.0,200.1 212.0,206.7 214.0,199.3 216.0,207.9 218.0,197.5 220.0,203.3 222.0,197.3 224.0,199.3 226.0,214.4 228.0,219.6 230.0,254.8 232.0,261.0 234.0,258.1 236.0,264.2 238.0,254.9 240.0,269.3 242.0,264.9 244.0,274.1 246.0,286.3 248.0,280.7 250.0,274.7 252.0,279.9 254.0,275.0 256.0,262.3 258.0,255.2 260.0,262.7 262.0,253.0 264.0,256.4 266.0,246.1 268.0,249.4 270.0,259.3 272.0,262.6 274.0,294.5 276.0,326.6 278.0,360.8 280.0,379.5 282.0,397.1 284.0,405.7 286.0,407.7 288.0,423.4 290.0,411.2 292.0,413.8 294.0,381.4 296.0,379.8 298.0,379.6 300.0,370.9 302.0,369.3 304.0,356.0 306.0,352.1 308.0,335.7 310.0,328.5 312.0,321.3 314.0,302.0 316.0,287.4 318.0,280.6 320.0,281.8 322.0,273.7 324.0,273.8 326.0,262.0 328.0,266.3 330.0,256.9 332.0,249.8 334.0,256.3 336.0,245.2 338.0,252.3 340.0,241.8 342.0,257.3 344.0,270.5 346.0,274.9 348.0,293.0 350.0,298.6 352.0,298.8 354.0,296.0 356.0,305.1 358.0,292.8 360.0,302.8 362.0,297.2 364.0,322.6 366.0,297.1 368.0,252.1 370.0,229.7 372.0,239.4 374.0,240.7 376.0,243.4 378.0,227.8 380.0,230.2 382.0,216.9 384.0,195.2 386.0,196.2 388.0,203.1 390.0,214.0 392.0,215.5 394.0,223.2 396.0,222.1 398.0,231.8 400.0,227.0 402.0,255.2 404.0,278.3 406.0,299.1 408.0,309.5 410.0,304.9 412.0,320.2 414.0,314.5 416.0,328.1 418.0,330.0 420.0,342.4 422.0,324.5 424.0,279.5 426.0,256.4 428.0,238.9 430.0,228.5 432.0,223.9 434.0,216.9 436.0,217.3 438.0,216.5 440.0,206.7 442.0,212.2 444.0,218.7 446.0,210.9 448.0,224.7 450.0,235.0 452.0,250.6 454.0,236.6 456.0,244.4 458.0,253.9 460.0,258.1 462.0,273.2 464.0,276.6 466.0,284.1 468.0,283.0 470.0,281.7 472.0,265.5 474.0,253.3 476.0,235.8 478.0,234.3 480.0,219.6 482.0,218.7 484.0,199.4 486.0,203.0 488.0,206.8 490.0,200.6 492.0,210.3 494.0,201.6 496.0,202.0 498.0,206.5 500.0,198.3 502.0,202.3 504.0,211.6 506.0,208.9 508.0,219.0 510.0,204.6 512.0,206.2 514.0,193.7 516.0,192.7 518.0,186.4 520.0,182.9 522.0,203.6 524.0,199.5 526.0,205.5 528.0,200.0 530.0,215.5 532.0,223.7 534.0,244.2 536.0,303.3" stroke="#50f5aa" stroke-width="1.5"/>
<polyline points="0.0,268.0 2.0,290.0 4.0,310.0 6.0,328.0 9.0,340.0 12.0,350.0 15.0,362.0 18.0,375.0 20.0,390.0 22.0,408.0 23.0,428.0 25.0,420.0 28.0,407.0 32.0,399.0 36.0,390.0 40.0,382.0 44.0,372.0 47.0,358.0 49.0,347.0 51.0,336.0 54.0,326.0 58.0,312.0 62.0,297.0 64.0,283.0 67.0,260.0 68.5,237.0 71.0,213.0 73.0,207.0 76.0,215.0 79.0,232.0 83.0,236.0 86.0,228.0 89.0,224.0 92.0,232.0 95.0,248.0 100.0,240.0 105.0,236.0 110.0,232.0 113.0,224.0 118.0,220.0 122.0,216.0 124.0,232.0 125.0,255.0 127.0,268.0 128.0,285.0 130.0,300.0 131.0,330.0 133.0,352.0 136.0,365.0 140.0,372.0 144.0,368.0 146.0,352.0 147.0,330.0 148.0,300.0 150.0,270.0 153.0,237.0 155.0,220.0 157.0,212.0 159.0,222.0 161.0,238.0 163.0,252.0 165.0,255.0 168.0,245.0 171.0,236.0 175.0,224.0 180.0,210.0 184.0,196.0 186.0,186.0 188.0,175.0 191.0,182.0 194.0,192.0 197.0,206.0 200.0,218.0 203.0,225.0 205.0,215.0 207.0,198.0 212.0,192.0 218.0,190.0 222.0,184.0 225.0,192.0 227.0,212.0 228.0,225.0 230.0,242.0 232.0,255.0 236.0,262.0 240.0,270.0 243.0,290.0 245.0,320.0 246.0,328.0 248.0,305.0 250.0,296.0 253.0,290.0 258.0,276.0 262.0,270.0 266.0,280.0 270.0,292.0 272.0,320.0 274.0,340.0 276.0,350.0 280.0,372.0 284.0,386.0 287.0,398.0 289.0,402.0 291.0,388.0 293.0,365.0 295.0,340.0 297.0,318.0 300.0,300.0 303.0,290.0 307.0,270.0 310.0,255.0 313.0,242.0 316.0,230.0 319.0,234.0 322.0,244.0 325.0,238.0 328.0,232.0 332.0,226.0 336.0,228.0 340.0,232.0 342.0,243.0 344.0,253.0 346.0,267.0 348.0,275.0 352.0,280.0 355.0,272.0 357.0,264.0 360.0,272.0 363.0,278.0 365.0,290.0 366.0,302.0 367.0,290.0 368.0,250.0 370.0,212.0 375.0,212.0 380.0,213.0 383.0,200.0 385.0,186.0 387.0,172.0 390.0,188.0 395.0,197.0 400.0,215.0 402.0,237.0 403.0,252.0 404.0,280.0 406.0,300.0 410.0,308.0 413.0,312.0 416.0,325.0 418.0,335.0 420.0,340.0 422.0,320.0 424.0,300.0 425.0,280.0 426.0,252.0 428.0,232.0 430.0,218.0 435.0,200.0 438.0,192.0 441.0,190.0 445.0,198.0 447.0,210.0 450.0,222.0 453.0,226.0 455.0,222.0 457.0,235.0 460.0,245.0 462.0,258.0 465.0,270.0 467.0,276.0 470.0,270.0 472.0,260.0 474.0,245.0 475.0,232.0 478.0,218.0 480.0,205.0 482.0,190.0 485.0,177.0 488.0,182.0 492.0,188.0 496.0,190.0 500.0,191.0 504.0,194.0 507.0,198.0 509.0,192.0 512.0,184.0 515.0,176.0 518.0,168.0 520.0,176.0 521.0,187.0 524.0,192.0 527.0,195.0 530.0,200.0 531.0,210.0 532.0,225.0 533.0,240.0 535.0,262.0 536.0,295.0 536.0,305.0" stroke="#ff0000" stroke-width="1.6" stroke-dasharray="8 4 1 4"/>
<path d="M-3.4 266.9h6.8M0.0 263.5v6.8M-2.6 274.7h6.8M0.8 271.3v6.8M-1.8 286.5h6.8M1.6 283.1v6.8M-1.0 291.4h6.8M2.4 288.0v6.8M-0.2 302.2h6.8M3.2 298.8v6.8M0.6 309.2h6.8M4.0 305.8v6.8M1.4 314.5h6.8M4.8 311.1v6.8M2.2 324.4h6.8M5.6 321.0v6.8M3.0 326.8h6.8M6.4 323.4v6.8M3.8 332.4h6.8M7.2 329.0v6.8M4.6 333.4h6.8M8.0 330.0v6.8M5.4 336.7h6.8M8.8 333.3v6.8M6.2 341.5h6.8M9.6 338.1v6.8M7.0 346.6h6.8M10.4 343.2v6.8M7.8 345.1h6.8M11.2 341.7v6.8M8.6 348.3h6.8M12.0 344.9v6.8M9.4 354.0h6.8M12.8 350.6v6.8M10.2 359.1h6.8M13.6 355.7v6.8M11.0 360.1h6.8M14.4 356.7v6.8M11.8 362.2h6.8M15.2 358.8v6.8M12.6 369.2h6.8M16.0 365.8v6.8M13.4 367.1h6.8M16.8 363.7v6.8M14.2 375.4h6.8M17.6 372.0v6.8M15.0 376.7h6.8M18.4 373.3v6.8M15.8 381.9h6.8M19.2 378.5v6.8M16.6 387.7h6.8M20.0 384.3v6.8M17.4 396.1h6.8M20.8 392.7v6.8M18.2 406.3h6.8M21.6 402.9v6.8M19.0 414.1h6.8M22.4 410.7v6.8M19.8 427.7h6.8M23.2 424.3v6.8M20.6 424.8h6.8M24.0 421.4v6.8M21.4 420.0h6.8M24.8 416.6v6.8M22.2 417.7h6.8M25.6 414.3v6.8M23.0 411.3h6.8M26.4 407.9v6.8M23.8 407.8h6.8M27.2 404.4v6.8M24.6 405.2h6.8M28.0 401.8v6.8M25.4 406.5h6.8M28.8 403.1v6.8M26.2 403.4h6.8M29.6 400.0v6.8M27.0 401.1h6.8M30.4 397.7v6.8M27.8 401.1h6.8M31.2 397.7v6.8M28.6 398.7h6.8M32.0 395.3v6.8M29.4 396.0h6.8M32.8 392.6v6.8M30.2 397.2h6.8M33.6 393.8v6.8M31.0 394.8h6.8M34.4 391.4v6.8M31.8 390.3h6.8M35.2 386.9v6.8M32.6 390.4h6.8M36.0 387.0v6.8M33.4 388.6h6.8M36.8 385.2v6.8M34.2 389.1h6.8M37.6 385.7v6.8M35.0 386.6h6.8M38.4 383.2v6.8M35.8 382.3h6.8M39.2 378.9v6.8M36.6 384.9h6.8M40.0 381.5v6.8M37.4 377.7h6.8M40.8 374.3v6.8M38.2 377.5h6.8M41.6 374.1v6.8M39.0 377.5h6.8M42.4 374.1v6.8M39.8 371.9h6.8M43.2 368.5v6.8M40.6 371.9h6.8M44.0 368.5v6.8M41.4 365.5h6.8M44.8 362.1v6.8M42.2 365.5h6.8M45.6 362.1v6.8M43.0 362.4h6.8M46.4 359.0v6.8M43.8 357.3h6.8M47.2 353.9v6.8M44.6 354.8h6.8M48.0 351.4v6.8M45.4 347.0h6.8M48.8 343.6v6.8M46.2 344.9h6.8M49.6 341.5v6.8M47.0 339.9h6.8M50.4 336.5v6.8M47.8 335.8h6.8M51.2 332.4v6.8M48.6 332.4h6.8M52.0 329.0v6.8M49.4 332.0h6.8M52.8 328.6v6.8M50.2 330.0h6.8M53.6 326.6v6.8M51.0 324.4h6.8M54.4 321.0v6.8M51.8 322.8h6.8M55.2 319.4v6.8M52.6 316.4h6.8M56.0 313.0v6.8M53.4 317.4h6.8M56.8 314.0v6.8M54.2 314.3h6.8M57.6 310.9v6.8M55.0 313.5h6.8M58.4 310.1v6.8M55.8 309.4h6.8M59.2 306.0v6.8M56.6 303.2h6.8M60.0 299.8v6.8M57.4 300.8h6.8M60.8 297.4v6.8M58.2 299.5h6.8M61.6 296.1v6.8M59.0 291.3h6.8M62.4 287.9v6.8M59.8 288.4h6.8M63.2 285.0v6.8M60.6 281.0h6.8M64.0 277.6v6.8M61.4 274.6h6.8M64.8 271.2v6.8M62.2 268.1h6.8M65.6 264.7v6.8M63.0 266.2h6.8M66.4 262.8v6.8M63.8 254.7h6.8M67.2 251.3v6.8M64.6 243.2h6.8M68.0 239.8v6.8M65.4 233.5h6.8M68.8 230.1v6.8M66.2 228.7h6.8M69.6 225.3v6.8M67.0 216.2h6.8M70.4 212.8v6.8M67.8 212.1h6.8M71.2 208.7v6.8M68.6 210.3h6.8M72.0 206.9v6.8M69.4 209.9h6.8M72.8 206.5v6.8M70.2 210.5h6.8M73.6 207.1v6.8M71.0 212.9h6.8M74.4 209.5v6.8M71.8 211.5h6.8M75.2 208.1v6.8M72.6 214.5h6.8M76.0 211.1v6.8M73.4 218.7h6.8M76.8 215.3v6.8M74.2 226.4h6.8M77.6 223.0v6.8M75.0 231.3h6.8M78.4 227.9v6.8M75.8 230.1h6.8M79.2 226.7v6.8M76.6 231.1h6.8M80.0 227.7v6.8M77.4 232.2h6.8M80.8 228.8v6.8M78.2 233.0h6.8M81.6 229.6v6.8M79.0 235.3h6.8M82.4 231.9v6.8M79.8 236.0h6.8M83.2 232.6v6.8M80.6 231.9h6.8M84.0 228.5v6.8M81.4 228.2h6.8M84.8 224.8v6.8M82.2 228.6h6.8M85.6 225.2v6.8M83.0 226.7h6.8M86.4 223.3v6.8M83.8 226.8h6.8M87.2 223.4v6.8M84.6 228.1h6.8M88.0 224.7v6.8M85.4 225.4h6.8M88.8 222.0v6.8M86.2 225.7h6.8M89.6 222.3v6.8M87.0 228.4h6.8M90.4 225.0v6.8M87.8 230.9h6.8M91.2 227.5v6.8M88.6 229.3h6.8M92.0 225.9v6.8M89.4 238.7h6.8M92.8 235.3v6.8M90.2 242.2h6.8M93.6 238.8v6.8M91.0 247.0h6.8M94.4 243.6v6.8M91.8 249.5h6.8M95.2 246.1v6.8M92.6 245.8h6.8M96.0 242.4v6.8M93.4 244.5h6.8M96.8 241.1v6.8M94.2 241.5h6.8M97.6 238.1v6.8M95.0 243.4h6.8M98.4 240.0v6.8M95.8 238.7h6.8M99.2 235.3v6.8M96.6 237.4h6.8M100.0 234.0v6.8M97.4 237.6h6.8M100.8 234.2v6.8M98.2 236.7h6.8M101.6 233.3v6.8M99.0 237.1h6.8M102.4 233.7v6.8M99.8 234.8h6.8M103.2 231.4v6.8M100.6 233.8h6.8M104.0 230.4v6.8M101.4 234.1h6.8M104.8 230.7v6.8M102.2 233.1h6.8M105.6 229.7v6.8M103.0 234.1h6.8M106.4 230.7v6.8M103.8 231.4h6.8M107.2 228.0v6.8M104.6 235.8h6.8M108.0 232.4v6.8M105.4 233.6h6.8M108.8 230.2v6.8M106.2 230.2h6.8M109.6 226.8v6.8M107.0 229.4h6.8M110.4 226.0v6.8M107.8 227.9h6.8M111.2 224.5v6.8M108.6 225.9h6.8M112.0 222.5v6.8M109.4 222.3h6.8M112.8 218.9v6.8M110.2 225.6h6.8M113.6 222.2v6.8M111.0 225.8h6.8M114.4 222.4v6.8M111.8 222.0h6.8M115.2 218.6v6.8M112.6 221.5h6.8M116.0 218.1v6.8M113.4 218.5h6.8M116.8 215.1v6.8M114.2 217.9h6.8M117.6 214.5v6.8M115.0 218.7h6.8M118.4 215.3v6.8M115.8 217.4h6.8M119.2 214.0v6.8M116.6 220.0h6.8M120.0 216.6v6.8M117.4 215.2h6.8M120.8 211.8v6.8M118.2 213.5h6.8M121.6 210.1v6.8M119.0 221.9h6.8M122.4 218.5v6.8M119.8 225.8h6.8M123.2 222.4v6.8M120.6 229.9h6.8M124.0 226.5v6.8M121.4 250.7h6.8M124.8 247.3v6.8M122.2 256.1h6.8M125.6 252.7v6.8M123.0 264.3h6.8M126.4 260.9v6.8M123.8 274.3h6.8M127.2 270.9v6.8M124.6 287.2h6.8M128.0 283.8v6.8M125.4 292.2h6.8M128.8 288.8v6.8M126.2 295.6h6.8M129.6 292.2v6.8M127.0 311.2h6.8M130.4 307.8v6.8M127.8 330.2h6.8M131.2 326.8v6.8M128.6 342.6h6.8M132.0 339.2v6.8M129.4 350.0h6.8M132.8 346.6v6.8M130.2 356.3h6.8M133.6 352.9v6.8M131.0 357.0h6.8M134.4 353.6v6.8M131.8 359.9h6.8M135.2 356.5v6.8M132.6 366.9h6.8M136.0 363.5v6.8M133.4 369.3h6.8M136.8 365.9v6.8M134.2 369.9h6.8M137.6 366.5v6.8M135.0 371.0h6.8M138.4 367.6v6.8M135.8 372.5h6.8M139.2 369.1v6.8M136.6 373.4h6.8M140.0 370.0v6.8M137.4 369.6h6.8M140.8 366.2v6.8M138.2 370.5h6.8M141.6 367.1v6.8M139.0 368.7h6.8M142.4 365.3v6.8M139.8 366.0h6.8M143.2 362.6v6.8M140.6 365.2h6.8M144.0 361.8v6.8M141.4 360.3h6.8M144.8 356.9v6.8M142.2 353.8h6.8M145.6 350.4v6.8M143.0 344.4h6.8M146.4 341.0v6.8M143.8 326.7h6.8M147.2 323.3v6.8M144.6 299.7h6.8M148.0 296.3v6.8M145.4 290.6h6.8M148.8 287.2v6.8M146.2 278.9h6.8M149.6 275.5v6.8M147.0 268.3h6.8M150.4 264.9v6.8M147.8 256.0h6.8M151.2 252.6v6.8M148.6 246.3h6.8M152.0 242.9v6.8M149.4 237.6h6.8M152.8 234.2v6.8M150.2 230.1h6.8M153.6 226.7v6.8M151.0 223.3h6.8M154.4 219.9v6.8M151.8 219.9h6.8M155.2 216.5v6.8M152.6 218.4h6.8M156.0 215.0v6.8M153.4 214.8h6.8M156.8 211.4v6.8M154.2 214.9h6.8M157.6 211.5v6.8M155.0 219.9h6.8M158.4 216.5v6.8M155.8 225.4h6.8M159.2 222.0v6.8M156.6 227.5h6.8M160.0 224.1v6.8M157.4 237.4h6.8M160.8 234.0v6.8M158.2 244.7h6.8M161.6 241.3v6.8M159.0 249.5h6.8M162.4 246.1v6.8M159.8 253.8h6.8M163.2 250.4v6.8M160.6 253.4h6.8M164.0 250.0v6.8M161.4 252.8h6.8M164.8 249.4v6.8M162.2 254.7h6.8M165.6 251.3v6.8M163.0 249.3h6.8M166.4 245.9v6.8M163.8 249.5h6.8M167.2 246.1v6.8M164.6 247.8h6.8M168.0 244.4v6.8M165.4 242.0h6.8M168.8 238.6v6.8M166.2 239.6h6.8M169.6 236.2v6.8M167.0 240.5h6.8M170.4 237.1v6.8M167.8 236.7h6.8M171.2 233.3v6.8M168.6 231.0h6.8M172.0 227.6v6.8M169.4 228.4h6.8M172.8 225.0v6.8M170.2 226.1h6.8M173.6 222.7v6.8M171.0 228.2h6.8M174.4 224.8v6.8M171.8 225.3h6.8M175.2 221.9v6.8M172.6 219.1h6.8M176.0 215.7v6.8M173.4 220.9h6.8M176.8 217.5v6.8M174.2 219.6h6.8M177.6 216.2v6.8M175.0 215.4h6.8M178.4 212.0v6.8M175.8 211.3h6.8M179.2 207.9v6.8M176.6 210.3h6.8M180.0 206.9v6.8M177.4 205.0h6.8M180.8 201.6v6.8M178.2 201.5h6.8M181.6 198.1v6.8M179.0 204.4h6.8M182.4 201.0v6.8M179.8 199.7h6.8M183.2 196.3v6.8M180.6 196.2h6.8M184.0 192.8v6.8M181.4 194.6h6.8M184.8 191.2v6.8M182.2 187.6h6.8M185.6 184.2v6.8M183.0 186.0h6.8M186.4 182.6v6.8M183.8 181.4h6.8M187.2 178.0v6.8M184.6 173.3h6.8M188.0 169.9v6.8M185.4 175.4h6.8M188.8 172.0v6.8M186.2 177.5h6.8M189.6 174.1v6.8M187.0 179.0h6.8M190.4 175.6v6.8M187.8 183.2h6.8M191.2 179.8v6.8M188.6 183.9h6.8M192.0 180.5v6.8M189.4 187.5h6.8M192.8 184.1v6.8M190.2 188.5h6.8M193.6 185.1v6.8M191.0 196.3h6.8M194.4 192.9v6.8M191.8 196.7h6.8M195.2 193.3v6.8M192.6 201.1h6.8M196.0 197.7v6.8M193.4 205.6h6.8M196.8 202.2v6.8M194.2 210.8h6.8M197.6 207.4v6.8M195.0 211.1h6.8M198.4 207.7v6.8M195.8 217.3h6.8M199.2 213.9v6.8M196.6 218.0h6.8M200.0 214.6v6.8M197.4 220.1h6.8M200.8 216.7v6.8M198.2 221.9h6.8M201.6 218.5v6.8M199.0 220.7h6.8M202.4 217.3v6.8M199.8 223.6h6.8M203.2 220.2v6.8M200.6 218.1h6.8M204.0 214.7v6.8M201.4 213.0h6.8M204.8 209.6v6.8M202.2 211.7h6.8M205.6 208.3v6.8M203.0 201.1h6.8M206.4 197.7v6.8M203.8 197.6h6.8M207.2 194.2v6.8M204.6 198.2h6.8M208.0 194.8v6.8M205.4 196.2h6.8M208.8 192.8v6.8M206.2 193.8h6.8M209.6 190.4v6.8M207.0 194.0h6.8M210.4 190.6v6.8M207.8 193.3h6.8M211.2 189.9v6.8M208.6 193.7h6.8M212.0 190.3v6.8M209.4 189.4h6.8M212.8 186.0v6.8M210.2 191.8h6.8M213.6 188.4v6.8M211.0 189.7h6.8M214.4 186.3v6.8M211.8 189.6h6.8M215.2 186.2v6.8M212.6 192.3h6.8M216.0 188.9v6.8M213.4 190.4h6.8M216.8 187.0v6.8M214.2 190.5h6.8M217.6 187.1v6.8M215.0 191.0h6.8M218.4 187.6v6.8M215.8 190.7h6.8M219.2 187.3v6.8M216.6 186.7h6.8M220.0 183.3v6.8M217.4 186.5h6.8M220.8 183.1v6.8M218.2 184.6h6.8M221.6 181.2v6.8M219.0 185.1h6.8M222.4 181.7v6.8M219.8 188.4h6.8M223.2 185.0v6.8M220.6 189.0h6.8M224.0 185.6v6.8M221.4 191.7h6.8M224.8 188.3v6.8M222.2 197.9h6.8M225.6 194.5v6.8M223.0 208.6h6.8M226.4 205.2v6.8M223.8 215.8h6.8M227.2 212.4v6.8M224.6 227.3h6.8M228.0 223.9v6.8M225.4 234.5h6.8M228.8 231.1v6.8M226.2 237.2h6.8M229.6 233.8v6.8M227.0 245.0h6.8M230.4 241.6v6.8M227.8 252.5h6.8M231.2 249.1v6.8M228.6 257.0h6.8M232.0 253.6v6.8M229.4 254.2h6.8M232.8 250.8v6.8M230.2 255.5h6.8M233.6 252.1v6.8M231.0 258.9h6.8M234.4 255.5v6.8M231.8 258.0h6.8M235.2 254.6v6.8M232.6 260.4h6.8M236.0 257.0v6.8M233.4 261.0h6.8M236.8 257.6v6.8M234.2 266.2h6.8M237.6 262.8v6.8M235.0 268.5h6.8M238.4 265.1v6.8M235.8 270.8h6.8M239.2 267.4v6.8M236.6 267.9h6.8M240.0 264.5v6.8M237.4 276.6h6.8M240.8 273.2v6.8M238.2 281.6h6.8M241.6 278.2v6.8M239.0 283.9h6.8M242.4 280.5v6.8M239.8 295.3h6.8M243.2 291.9v6.8M240.6 307.8h6.8M244.0 304.4v6.8M241.4 315.3h6.8M244.8 311.9v6.8M242.2 327.5h6.8M245.6 324.1v6.8M243.0 322.8h6.8M246.4 319.4v6.8M243.8 314.1h6.8M247.2 310.7v6.8M244.6 307.9h6.8M248.0 304.5v6.8M245.4 303.4h6.8M248.8 300.0v6.8M246.2 295.8h6.8M249.6 292.4v6.8M247.0 294.8h6.8M250.4 291.4v6.8M247.8 293.7h6.8M251.2 290.3v6.8M248.6 291.0h6.8M252.0 287.6v6.8M249.4 288.6h6.8M252.8 285.2v6.8M250.2 287.2h6.8M253.6 283.8v6.8M251.0 287.4h6.8M254.4 284.0v6.8M251.8 281.0h6.8M255.2 277.6v6.8M252.6 281.9h6.8M256.0 278.5v6.8M253.4 279.0h6.8M256.8 275.6v6.8M254.2 274.2h6.8M257.6 270.8v6.8M255.0 274.4h6.8M258.4 271.0v6.8M255.8 274.9h6.8M259.2 271.5v6.8M256.6 273.1h6.8M260.0 269.7v6.8M257.4 269.2h6.8M260.8 265.8v6.8M258.2 273.5h6.8M261.6 270.1v6.8M259.0 272.7h6.8M262.4 269.3v6.8M259.8 275.8h6.8M263.2 272.4v6.8M260.6 272.6h6.8M264.0 269.2v6.8M261.4 275.6h6.8M264.8 272.2v6.8M262.2 276.2h6.8M265.6 272.8v6.8M263.0 282.9h6.8M266.4 279.5v6.8M263.8 282.2h6.8M267.2 278.8v6.8M264.6 283.8h6.8M268.0 280.4v6.8M265.4 287.9h6.8M268.8 284.5v6.8M266.2 293.3h6.8M269.6 289.9v6.8M267.0 299.5h6.8M270.4 296.1v6.8M267.8 307.4h6.8M271.2 304.0v6.8M268.6 317.9h6.8M272.0 314.5v6.8M269.4 330.5h6.8M272.8 327.1v6.8M270.2 336.4h6.8M273.6 333.0v6.8M271.0 343.2h6.8M274.4 339.8v6.8M271.8 343.5h6.8M275.2 340.1v6.8M272.6 347.3h6.8M276.0 343.9v6.8M273.4 355.5h6.8M276.8 352.1v6.8M274.2 358.4h6.8M277.6 355.0v6.8M275.0 360.6h6.8M278.4 357.2v6.8M275.8 370.2h6.8M279.2 366.8v6.8M276.6 372.8h6.8M280.0 369.4v6.8M277.4 376.6h6.8M280.8 373.2v6.8M278.2 375.1h6.8M281.6 371.7v6.8M279.0 382.5h6.8M282.4 379.1v6.8M279.8 380.6h6.8M283.2 377.2v6.8M280.6 388.2h6.8M284.0 384.8v6.8M281.4 388.9h6.8M284.8 385.5v6.8M282.2 391.4h6.8M285.6 388.0v6.8M283.0 395.9h6.8M286.4 392.5v6.8M283.8 401.0h6.8M287.2 397.6v6.8M284.6 398.6h6.8M288.0 395.2v6.8M285.4 399.4h6.8M288.8 396.0v6.8M286.2 398.0h6.8M289.6 394.6v6.8M287.0 390.6h6.8M290.4 387.2v6.8M287.8 383.4h6.8M291.2 380.0v6.8M288.6 374.5h6.8M292.0 371.1v6.8M289.4 364.6h6.8M292.8 361.2v6.8M290.2 355.7h6.8M293.6 352.3v6.8M291.0 346.4h6.8M294.4 343.0v6.8M291.8 336.6h6.8M295.2 333.2v6.8M292.6 330.6h6.8M296.0 327.2v6.8M293.4 318.9h6.8M296.8 315.5v6.8M294.2 314.4h6.8M297.6 311.0v6.8M295.0 307.7h6.8M298.4 304.3v6.8M295.8 303.9h6.8M299.2 300.5v6.8M296.6 297.1h6.8M300.0 293.7v6.8M297.4 295.8h6.8M300.8 292.4v6.8M298.2 291.8h6.8M301.6 288.4v6.8M299.0 293.4h6.8M302.4 290.0v6.8M299.8 289.3h6.8M303.2 285.9v6.8M300.6 283.1h6.8M304.0 279.7v6.8M301.4 280.8h6.8M304.8 277.4v6.8M302.2 279.6h6.8M305.6 276.2v6.8M303.0 270.6h6.8M306.4 267.2v6.8M303.8 270.9h6.8M307.2 267.5v6.8M304.6 264.6h6.8M308.0 261.2v6.8M305.4 261.0h6.8M308.8 257.6v6.8M306.2 259.0h6.8M309.6 255.6v6.8M307.0 252.6h6.8M310.4 249.2v6.8M307.8 249.8h6.8M311.2 246.4v6.8M308.6 247.5h6.8M312.0 244.1v6.8M309.4 245.8h6.8M312.8 242.4v6.8M310.2 238.7h6.8M313.6 235.3v6.8M311.0 238.4h6.8M314.4 235.0v6.8M311.8 234.4h6.8M315.2 231.0v6.8M312.6 230.8h6.8M316.0 227.4v6.8M313.4 230.5h6.8M316.8 227.1v6.8M314.2 231.2h6.8M317.6 227.8v6.8M315.0 230.5h6.8M318.4 227.1v6.8M315.8 232.4h6.8M319.2 229.0v6.8M316.6 234.8h6.8M320.0 231.4v6.8M317.4 241.4h6.8M320.8 238.0v6.8M318.2 241.2h6.8M321.6 237.8v6.8M319.0 241.2h6.8M322.4 237.8v6.8M319.8 239.1h6.8M323.2 235.7v6.8M320.6 242.0h6.8M324.0 238.6v6.8M321.4 240.6h6.8M324.8 237.2v6.8M322.2 237.8h6.8M325.6 234.4v6.8M323.0 233.9h6.8M326.4 230.5v6.8M323.8 232.1h6.8M327.2 228.7v6.8M324.6 230.8h6.8M328.0 227.4v6.8M325.4 230.6h6.8M328.8 227.2v6.8M326.2 227.5h6.8M329.6 224.1v6.8M327.0 228.1h6.8M330.4 224.7v6.8M327.8 225.8h6.8M331.2 222.4v6.8M328.6 228.8h6.8M332.0 225.4v6.8M329.4 229.2h6.8M332.8 225.8v6.8M330.2 227.1h6.8M333.6 223.7v6.8M331.0 225.7h6.8M334.4 222.3v6.8M331.8 230.4h6.8M335.2 227.0v6.8M332.6 226.9h6.8M336.0 223.5v6.8M333.4 227.9h6.8M336.8 224.5v6.8M334.2 226.6h6.8M337.6 223.2v6.8M335.0 229.7h6.8M338.4 226.3v6.8M335.8 231.0h6.8M339.2 227.6v6.8M336.6 232.0h6.8M340.0 228.6v6.8M337.4 234.6h6.8M340.8 231.2v6.8M338.2 240.8h6.8M341.6 237.4v6.8M339.0 242.0h6.8M342.4 238.6v6.8M339.8 247.6h6.8M343.2 244.2v6.8M340.6 250.5h6.8M344.0 247.1v6.8M341.4 258.0h6.8M344.8 254.6v6.8M342.2 261.5h6.8M345.6 258.1v6.8M343.0 265.7h6.8M346.4 262.3v6.8M343.8 270.6h6.8M347.2 267.2v6.8M344.6 273.4h6.8M348.0 270.0v6.8M345.4 276.5h6.8M348.8 273.1v6.8M346.2 277.2h6.8M349.6 273.8v6.8M347.0 279.5h6.8M350.4 276.1v6.8M347.8 279.9h6.8M351.2 276.5v6.8M348.6 281.3h6.8M352.0 277.9v6.8M349.4 280.1h6.8M352.8 276.7v6.8M350.2 275.1h6.8M353.6 271.7v6.8M351.0 272.6h6.8M354.4 269.2v6.8M351.8 274.1h6.8M355.2 270.7v6.8M352.6 265.9h6.8M356.0 262.5v6.8M353.4 266.1h6.8M356.8 262.7v6.8M354.2 266.5h6.8M357.6 263.1v6.8M355.0 265.0h6.8M358.4 261.6v6.8M355.8 271.9h6.8M359.2 268.5v6.8M356.6 274.4h6.8M360.0 271.0v6.8M357.4 274.4h6.8M360.8 271.0v6.8M358.2 276.6h6.8M361.6 273.2v6.8M359.0 278.7h6.8M362.4 275.3v6.8M359.8 277.0h6.8M363.2 273.6v6.8M360.6 284.1h6.8M364.0 280.7v6.8M361.4 288.8h6.8M364.8 285.4v6.8M362.2 299.2h6.8M365.6 295.8v6.8M363.0 299.0h6.8M366.4 295.6v6.8M363.8 284.0h6.8M367.2 280.6v6.8M364.6 250.5h6.8M368.0 247.1v6.8M365.4 237.2h6.8M368.8 233.8v6.8M366.2 220.7h6.8M369.6 217.3v6.8M367.0 213.2h6.8M370.4 209.8v6.8M367.8 210.4h6.8M371.2 207.0v6.8M368.6 209.2h6.8M372.0 205.8v6.8M369.4 209.8h6.8M372.8 206.4v6.8M370.2 211.2h6.8M373.6 207.8v6.8M371.0 209.6h6.8M374.4 206.2v6.8M371.8 214.1h6.8M375.2 210.7v6.8M372.6 212.6h6.8M376.0 209.2v6.8M373.4 213.1h6.8M376.8 209.7v6.8M374.2 213.3h6.8M377.6 209.9v6.8M375.0 213.8h6.8M378.4 210.4v6.8M375.8 212.8h6.8M379.2 209.4v6.8M376.6 210.0h6.8M380.0 206.6v6.8M377.4 211.3h6.8M380.8 207.9v6.8M378.2 207.6h6.8M381.6 204.2v6.8M379.0 202.6h6.8M382.4 199.2v6.8M379.8 198.8h6.8M383.2 195.4v6.8M380.6 194.0h6.8M384.0 190.6v6.8M381.4 184.8h6.8M384.8 181.4v6.8M382.2 183.2h6.8M385.6 179.8v6.8M383.0 174.7h6.8M386.4 171.3v6.8M383.8 170.5h6.8M387.2 167.1v6.8M384.6 175.9h6.8M388.0 172.5v6.8M385.4 183.0h6.8M388.8 179.6v6.8M386.2 184.1h6.8M389.6 180.7v6.8M387.0 190.2h6.8M390.4 186.8v6.8M387.8 193.0h6.8M391.2 189.6v6.8M388.6 191.6h6.8M392.0 188.2v6.8M389.4 192.3h6.8M392.8 188.9v6.8M390.2 194.4h6.8M393.6 191.0v6.8M391.0 197.0h6.8M394.4 193.6v6.8M391.8 199.3h6.8M395.2 195.9v6.8M392.6 201.3h6.8M396.0 197.9v6.8M393.4 204.3h6.8M396.8 200.9v6.8M394.2 203.8h6.8M397.6 200.4v6.8M395.0 207.1h6.8M398.4 203.7v6.8M395.8 210.6h6.8M399.2 207.2v6.8M396.6 216.5h6.8M400.0 213.1v6.8M397.4 222.6h6.8M400.8 219.2v6.8M398.2 233.0h6.8M401.6 229.6v6.8M399.0 240.1h6.8M402.4 236.7v6.8M399.8 255.0h6.8M403.2 251.6v6.8M400.6 278.6h6.8M404.0 275.2v6.8M401.4 289.0h6.8M404.8 285.6v6.8M402.2 297.2h6.8M405.6 293.8v6.8M403.0 301.9h6.8M406.4 298.5v6.8M403.8 301.1h6.8M407.2 297.7v6.8M404.6 304.1h6.8M408.0 300.7v6.8M405.4 305.4h6.8M408.8 302.0v6.8M406.2 307.0h6.8M409.6 303.6v6.8M407.0 306.2h6.8M410.4 302.8v6.8M407.8 312.0h6.8M411.2 308.6v6.8M408.6 308.9h6.8M412.0 305.5v6.8M409.4 314.6h6.8M412.8 311.2v6.8M410.2 317.2h6.8M413.6 313.8v6.8M411.0 315.2h6.8M414.4 311.8v6.8M411.8 321.3h6.8M415.2 317.9v6.8M412.6 326.9h6.8M416.0 323.5v6.8M413.4 331.8h6.8M416.8 328.4v6.8M414.2 332.7h6.8M417.6 329.3v6.8M415.0 334.6h6.8M418.4 331.2v6.8M415.8 336.3h6.8M419.2 332.9v6.8M416.6 342.7h6.8M420.0 339.3v6.8M417.4 330.3h6.8M420.8 326.9v6.8M418.2 324.5h6.8M421.6 321.1v6.8M419.0 313.9h6.8M422.4 310.5v6.8M419.8 308.1h6.8M423.2 304.7v6.8M420.6 302.7h6.8M424.0 299.3v6.8M421.4 281.8h6.8M424.8 278.4v6.8M422.2 265.1h6.8M425.6 261.7v6.8M423.0 248.1h6.8M426.4 244.7v6.8M423.8 242.3h6.8M427.2 238.9v6.8M424.6 233.2h6.8M428.0 229.8v6.8M425.4 224.8h6.8M428.8 221.4v6.8M426.2 223.2h6.8M429.6 219.8v6.8M427.0 216.5h6.8M430.4 213.1v6.8M427.8 210.8h6.8M431.2 207.4v6.8M428.6 207.8h6.8M432.0 204.4v6.8M429.4 207.9h6.8M432.8 204.5v6.8M430.2 204.7h6.8M433.6 201.3v6.8M431.0 201.0h6.8M434.4 197.6v6.8M431.8 197.3h6.8M435.2 193.9v6.8M432.6 196.4h6.8M436.0 193.0v6.8M433.4 194.1h6.8M436.8 190.7v6.8M434.2 195.1h6.8M437.6 191.7v6.8M435.0 188.7h6.8M438.4 185.3v6.8M435.8 192.7h6.8M439.2 189.3v6.8M436.6 192.7h6.8M440.0 189.3v6.8M437.4 187.9h6.8M440.8 184.5v6.8M438.2 193.8h6.8M441.6 190.4v6.8M439.0 194.1h6.8M442.4 190.7v6.8M439.8 196.8h6.8M443.2 193.4v6.8M440.6 194.7h6.8M444.0 191.3v6.8M441.4 196.8h6.8M444.8 193.4v6.8M442.2 201.0h6.8M445.6 197.6v6.8M443.0 209.4h6.8M446.4 206.0v6.8M443.8 211.3h6.8M447.2 207.9v6.8M444.6 213.2h6.8M448.0 209.8v6.8M445.4 216.8h6.8M448.8 213.4v6.8M446.2 219.1h6.8M449.6 215.7v6.8M447.0 219.8h6.8M450.4 216.4v6.8M447.8 221.2h6.8M451.2 217.8v6.8M448.6 226.7h6.8M452.0 223.3v6.8M449.4 224.4h6.8M452.8 221.0v6.8M450.2 227.4h6.8M453.6 224.0v6.8M451.0 221.7h6.8M454.4 218.3v6.8M451.8 221.9h6.8M455.2 218.5v6.8M452.6 228.6h6.8M456.0 225.2v6.8M453.4 231.8h6.8M456.8 228.4v6.8M454.2 236.2h6.8M457.6 232.8v6.8M455.0 242.4h6.8M458.4 239.0v6.8M455.8 244.6h6.8M459.2 241.2v6.8M456.6 246.9h6.8M460.0 243.5v6.8M457.4 251.0h6.8M460.8 247.6v6.8M458.2 257.9h6.8M461.6 254.5v6.8M459.0 262.2h6.8M462.4 258.8v6.8M459.8 263.1h6.8M463.2 259.7v6.8M460.6 267.3h6.8M464.0 263.9v6.8M461.4 266.5h6.8M464.8 263.1v6.8M462.2 273.2h6.8M465.6 269.8v6.8M463.0 273.9h6.8M466.4 270.5v6.8M463.8 277.1h6.8M467.2 273.7v6.8M464.6 274.9h6.8M468.0 271.5v6.8M465.4 271.1h6.8M468.8 267.7v6.8M466.2 268.1h6.8M469.6 264.7v6.8M467.0 270.6h6.8M470.4 267.2v6.8M467.8 261.8h6.8M471.2 258.4v6.8M468.6 259.8h6.8M472.0 256.4v6.8M469.4 253.1h6.8M472.8 249.7v6.8M470.2 246.8h6.8M473.6 243.4v6.8M471.0 241.2h6.8M474.4 237.8v6.8M471.8 233.9h6.8M475.2 230.5v6.8M472.6 225.9h6.8M476.0 222.5v6.8M473.4 224.5h6.8M476.8 221.1v6.8M474.2 218.7h6.8M477.6 215.3v6.8M475.0 215.7h6.8M478.4 212.3v6.8M475.8 209.6h6.8M479.2 206.2v6.8M476.6 203.0h6.8M480.0 199.6v6.8M477.4 197.0h6.8M480.8 193.6v6.8M478.2 191.2h6.8M481.6 187.8v6.8M479.0 190.7h6.8M482.4 187.3v6.8M479.8 184.8h6.8M483.2 181.4v6.8M480.6 179.7h6.8M484.0 176.3v6.8M481.4 180.3h6.8M484.8 176.9v6.8M482.2 181.0h6.8M485.6 177.6v6.8M483.0 179.0h6.8M486.4 175.6v6.8M483.8 178.5h6.8M487.2 175.1v6.8M484.6 180.2h6.8M488.0 176.8v6.8M485.4 180.7h6.8M488.8 177.3v6.8M486.2 183.5h6.8M489.6 180.1v6.8M487.0 183.1h6.8M490.4 179.7v6.8M487.8 185.2h6.8M491.2 181.8v6.8M488.6 186.6h6.8M492.0 183.2v6.8M489.4 188.8h6.8M492.8 185.4v6.8M490.2 191.1h6.8M493.6 187.7v6.8M491.0 190.7h6.8M494.4 187.3v6.8M491.8 189.1h6.8M495.2 185.7v6.8M492.6 189.5h6.8M496.0 186.1v6.8M493.4 190.3h6.8M496.8 186.9v6.8M494.2 189.7h6.8M497.6 186.3v6.8M495.0 189.6h6.8M498.4 186.2v6.8M495.8 188.2h6.8M499.2 184.8v6.8M496.6 189.7h6.8M500.0 186.3v6.8M497.4 194.4h6.8M500.8 191.0v6.8M498.2 190.0h6.8M501.6 186.6v6.8M499.0 192.8h6.8M502.4 189.4v6.8M499.8 194.2h6.8M503.2 190.8v6.8M500.6 196.2h6.8M504.0 192.8v6.8M501.4 193.4h6.8M504.8 190.0v6.8M502.2 194.8h6.8M505.6 191.4v6.8M503.0 195.7h6.8M506.4 192.3v6.8M503.8 196.8h6.8M507.2 193.4v6.8M504.6 194.7h6.8M508.0 191.3v6.8M505.4 195.3h6.8M508.8 191.9v6.8M506.2 192.5h6.8M509.6 189.1v6.8M507.0 190.5h6.8M510.4 187.1v6.8M507.8 183.3h6.8M511.2 179.9v6.8M508.6 181.2h6.8M512.0 177.8v6.8M509.4 183.1h6.8M512.8 179.7v6.8M510.2 182.1h6.8M513.6 178.7v6.8M511.0 177.4h6.8M514.4 174.0v6.8M511.8 176.0h6.8M515.2 172.6v6.8M512.6 170.3h6.8M516.0 166.9v6.8M513.4 170.5h6.8M516.8 167.1v6.8M514.2 171.6h6.8M517.6 168.2v6.8M515.0 171.6h6.8M518.4 168.2v6.8M515.8 174.9h6.8M519.2 171.5v6.8M516.6 178.8h6.8M520.0 175.4v6.8M517.4 183.3h6.8M520.8 179.9v6.8M518.2 185.7h6.8M521.6 182.3v6.8M519.0 187.3h6.8M522.4 183.9v6.8M519.8 190.8h6.8M523.2 187.4v6.8M520.6 193.1h6.8M524.0 189.7v6.8M521.4 195.4h6.8M524.8 192.0v6.8M522.2 194.9h6.8M525.6 191.5v6.8M523.0 195.3h6.8M526.4 191.9v6.8M523.8 196.9h6.8M527.2 193.5v6.8M524.6 196.4h6.8M528.0 193.0v6.8M525.4 198.3h6.8M528.8 194.9v6.8M526.2 196.6h6.8M529.6 193.2v6.8M527.0 205.7h6.8M530.4 202.3v6.8M527.8 211.4h6.8M531.2 208.0v6.8M528.6 227.5h6.8M532.0 224.1v6.8M529.4 237.9h6.8M532.8 234.5v6.8M530.2 245.4h6.8M533.6 242.0v6.8M531.0 253.2h6.8M534.4 249.8v6.8M531.8 267.1h6.8M535.2 263.7v6.8" stroke="#ff0000" stroke-width="2.2"/>
</g>
<g stroke="#111" stroke-width="1.6" fill="none">
<path d="M0 147H539V574"/>
<path d="M21.5 147v6M22.5 153V574"/>
<path d="M278.6 147V574"/>
<path d="M150 147v6M408 147v6M535.5 147v7"/>
<path d="M530 190.5h9M530 310h9M530 546.5h9"/>
</g>
<g stroke="#000" stroke-width="1.3">
<line x1="146" y1="518" x2="36" y2="463"/>
<line x1="163.4" y1="515" x2="269" y2="428"/>
</g>
<path d="M22 455L46 457.6L38 463.6L37 472Z" fill="#000"/>
<path d="M280 417L269 439.7L268 428L257.8 424.3Z" fill="#000"/>
<text x="70" y="540.6" font-family="Liberation Sans, sans-serif" font-size="22.5" letter-spacing="0.4" fill="#000" stroke="#fff" stroke-width="0.3">delay change</text>
<rect x="310" y="368" width="254" height="156" fill="#fff" stroke="#111" stroke-width="1.6"/>
<g fill="none" stroke-width="1.6">
<path d="M322.5 386.5H394" stroke="#2a3cff" stroke-dasharray="15.5 13"/>
<path d="M322 424.6h3M333 424.6h16M366 424.6h16M390 424.6h3" stroke="#14a014" stroke-width="2"/>
<rect x="355.5" y="422" width="5" height="5" stroke="#14a014" stroke-width="1.6"/>
<path d="M322 467.2h3M333 467.2h16M366 467.2h16M390 467.2h3M354.5 467.2h7M358 463.7v7" stroke="#ff0000" stroke-width="2"/>
<path d="M322.5 505.4H393.5" stroke="#50f5aa"/>
</g>
<g font-family="Liberation Sans, sans-serif" font-size="22.5" letter-spacing="0.4" fill="#000" stroke="#fff" stroke-width="0.35">
<text x="399.5" y="394.8">NLMS</text>
<text x="399.5" y="426.5" letter-spacing="0.15">Proposed:N<tspan font-size="17" dx="1.5" dy="13.2">p</tspan><tspan dx="1" dy="-13.2">=3</tspan></text>
<text x="399.5" y="468.5" letter-spacing="0.15">Proposed:N<tspan font-size="17" dx="1.5" dy="13.2">p</tspan><tspan dx="1" dy="-13.2">=5</tspan></text>
<text x="399.5" y="511.3">Power filter</text>
</g>
<rect x="222" y="570" width="1.6" height="4" fill="#a020f0"/>
</svg>
<div class="box">
<div class="ln" style="left:149px;top:44.5px"><span class="ser" style="font-size:65px">1</span><span class="sup" style="left:32px">st</span></div>
<div class="ln cm" style="left:149.5px;top:126px">ac</div>
<div class="ln" style="left:149px;top:220px"><span class="thin">2</span><span class="sup" style="left:32px">nd</span></div>
<div class="ln cm" style="left:149.5px;top:298px">ac</div>
<div class="ln cm" style="left:151px;top:390px;transform:scale(0.86,1.08);letter-spacing:1.5px">ERLE</div>
</div>
<div class="foot"><span>14/17</span></div>
</body></html>
